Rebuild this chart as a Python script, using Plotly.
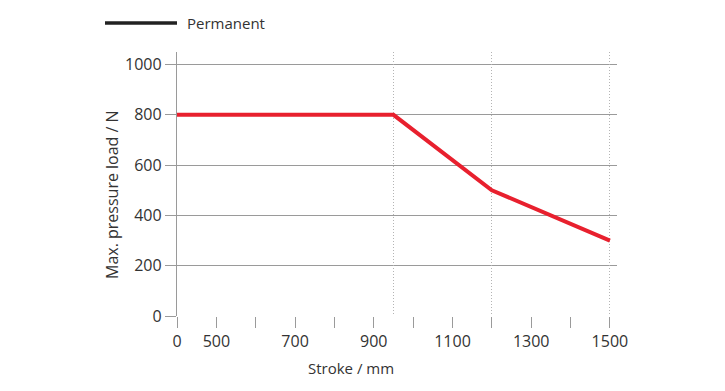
import plotly.graph_objects as go

# Data
stroke = [400, 950, 1200, 1500]          # 400 on the axis is labelled "0"
load = [800, 800, 500, 300]
series_name = "Permanent"

x_tick_vals = list(range(400, 1501, 100))
x_tick_labels = {400: "0", 500: "500", 700: "700", 900: "900",
                 1100: "1100", 1300: "1300", 1500: "1500"}
x_tick_text = [x_tick_labels.get(v, "") for v in x_tick_vals]
y_tick_vals = [0, 200, 400, 600, 800, 1000]
grid_x = [950, 1200, 1500]

FONT = "Open Sans"
TXT = "#333333"
GRID = "#9a9a9a"

L, R, T, B = 177, 108, 52, 75
PW, PH = 725 - L - R, 391 - T - B

def px(x):
    return (x - L) / PW

def py(y):
    return (391 - B - y) / PH

fig = go.Figure()
fig.add_trace(go.Scatter(x=stroke, y=load, mode="lines", name=series_name,
                         line=dict(color="#e8202e", width=4), showlegend=False))
fig.add_trace(go.Scatter(x=grid_x, y=[None]*len(grid_x), xaxis="x2",
                         mode="lines", showlegend=False, hoverinfo="skip"))

fig.update_layout(
    width=725, height=391,
    margin=dict(l=L, r=R, t=T, b=B),
    paper_bgcolor="white", plot_bgcolor="white",
    font=dict(family=FONT, size=15, color=TXT),
    xaxis=dict(range=[400, 1518], tickvals=x_tick_vals, ticktext=x_tick_text,
               ticks="outside", ticklen=11, tickcolor=GRID, tickwidth=1,
               showgrid=False, zeroline=False, showline=False,
               tickfont=dict(size=16, color=TXT)),
    xaxis2=dict(range=[400, 1518], overlaying="x", side="bottom",
                tickvals=grid_x, showticklabels=False, ticks="",
                showgrid=True, gridcolor="#b4b4b4", gridwidth=1, griddash="1px,2px",
                zeroline=False, showline=False),
    yaxis=dict(range=[0, 1050], tickvals=y_tick_vals,
               ticks="outside", ticklen=11, tickcolor=GRID, tickwidth=1,
               showgrid=True, gridcolor=GRID, gridwidth=1.3,
               zeroline=False, showline=True, linecolor=GRID, linewidth=1.3,
               tickfont=dict(size=16, color=TXT)),
    showlegend=False,
)

# axis titles
fig.add_annotation(text="Stroke / mm", xref="paper", yref="paper",
                   x=px(351), y=py(368), xanchor="center", yanchor="middle",
                   showarrow=False, font=dict(size=15, color=TXT, family=FONT))
fig.add_annotation(text="Max. pressure load / N", xref="paper", yref="paper",
                   x=px(112), y=py(195), xanchor="center", yanchor="middle",
                   textangle=-90,
                   showarrow=False, font=dict(size=16, color=TXT, family=FONT))

# manual legend
fig.add_shape(type="line", xref="paper", yref="paper",
              x0=px(105), x1=px(177), y0=py(23), y1=py(23),
              line=dict(color="#222222", width=3.5))
fig.add_annotation(text=series_name, xref="paper", yref="paper",
                   x=px(185), y=py(23), xanchor="left", yanchor="middle",
                   showarrow=False, font=dict(size=15, color=TXT, family=FONT))

fig.write_html("out.html", config={"displayModeBar": False},
               post_script="document.body.style.margin='0';")
